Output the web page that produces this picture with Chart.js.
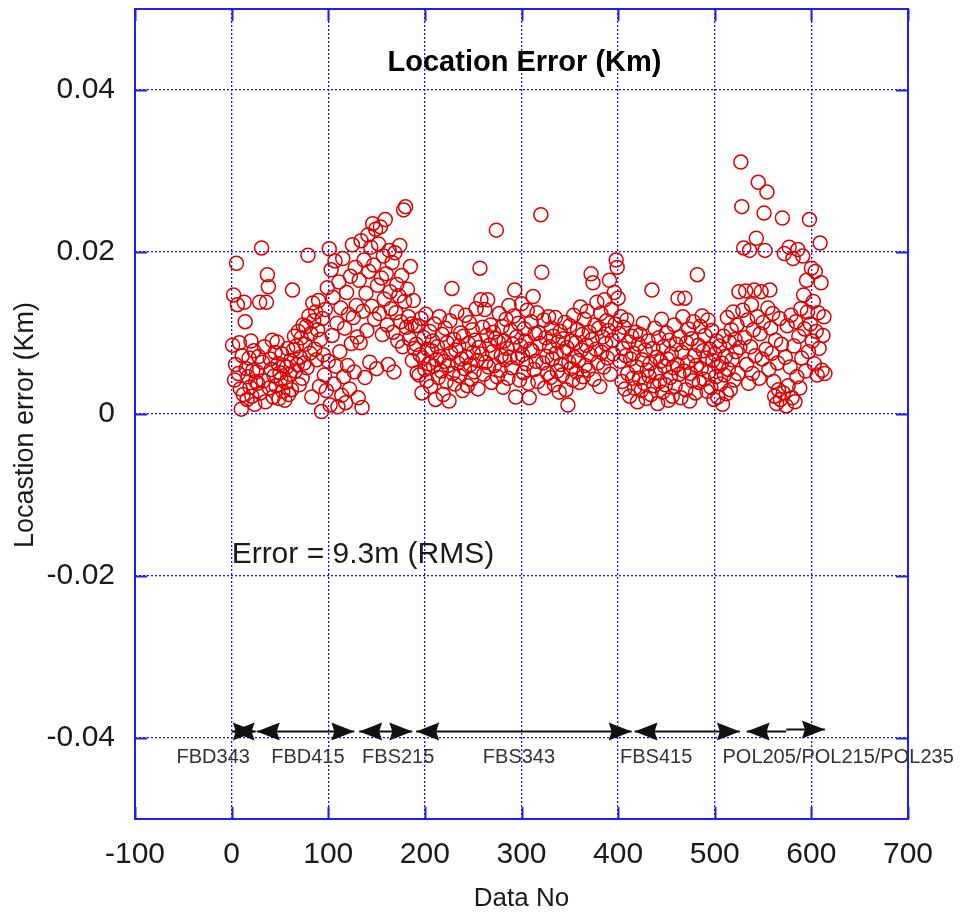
<!DOCTYPE html>
<html>
<head>
<meta charset="utf-8">
<script src="https://cdn.jsdelivr.net/npm/chart.js@4.4.1/dist/chart.umd.min.js"></script>
<style>
  html, body { margin: 0; padding: 0; background: #fff; }
  #wrap { width: 972px; height: 918px; }
</style>
</head>
<body>
<div id="wrap"><canvas id="location-error"></canvas></div>
<script>
// Location error per measurement, in metres (Data No runs on from 1 across the groups)
const fbd343 = [8.5, 14.7, 4.2, 6.1, 18.6, 13.5, 5.0, 8.8, 3.1, 0.6, 7.2, 2.4, 13.8, 11.4, 5.6, 1.8, 4.6, 6.9, 3.3, 9.0, 2.2, 5.4, 7.8, 1.2, 4.0];
const fbd415 = [
  5.2, 3.8, 7.1, 13.8, 2.6, 20.5, 6.4, 4.1, 8.3, 1.5,
  13.8, 17.2, 15.7, 3.2, 6.8, 5.5, 9.1, 2.1, 4.7, 7.6,
  3.5, 8.9, 6.2, 1.9, 5.1, 4.3, 7.4, 2.8, 6.0, 1.7,
  3.9, 5.8, 8.1, 2.4, 4.9, 6.6, 3.0, 15.3, 7.9, 9.6,
  5.3, 8.4, 6.1, 10.2, 3.6, 7.0, 9.4, 4.4, 11.0, 6.3,
  8.6, 10.8, 5.7, 19.6, 12.1, 7.5, 9.9, 2.1, 13.7, 11.5,
  8.0, 12.6, 6.7, 10.4, 14.0, 3.4, 9.2, 0.3, 11.8, 7.3,
  4.8, 12.9, 2.9, 15.6, 6.5, 20.4, 1.1, 17.8, 9.7, 14.4,
  3.7, 18.9, 5.9, 11.2, 0.9, 16.3, 7.7, 13.1, 2.3, 19.2,
  4.6, 10.6, 1.4, 15.0, 6.0, 12.3, 3.1, 17.0, 8.7, 20.9,
  11.9, 5.2, 18.1, 13.4, 9.5
];
const fbs215 = [
  2.0, 16.5, 8.8, 21.4, 0.8, 12.7, 19.0, 4.5, 14.9, 10.3,
  22.1, 17.6, 6.4, 20.6, 13.3, 23.5, 18.4, 11.7, 22.8, 5.6,
  15.9, 21.0, 12.4, 23.1, 16.8, 9.8, 19.5, 14.2, 24.0, 17.3,
  11.0, 6.1, 20.2, 15.1, 13.0, 18.7, 10.1, 5.2, 19.9, 12.5,
  16.0, 9.0, 14.6, 20.8, 11.4, 17.1, 8.3, 25.2, 13.9, 25.6,
  10.7, 15.4, 12.0, 9.3, 18.2, 11.1, 6.6, 14.0, 8.1, 10.9
];
const fbs343 = [
  8.6, 5.1, 10.9, 4.8, 7.3, 11.8, 2.6, 6.9, 9.4, 5.5, 12.3, 4.1, 8.0, 6.2, 10.2,
  3.4, 7.8, 9.0, 5.9, 11.1, 1.8, 6.7, 8.3, 4.5, 12.0, 7.1, 5.3, 9.8, 2.4, 6.5,
  10.6, 4.0, 8.8, 6.0, 1.6, 11.5, 7.5, 15.5, 5.0, 9.2, 3.7, 7.9, 12.6, 6.3, 8.4,
  4.7, 10.0, 6.8, 2.9, 9.6, 5.6, 12.2, 7.0, 3.5, 8.7, 11.3, 6.1, 4.3, 10.4, 7.6,
  5.2, 9.1, 13.0, 6.6, 3.1, 8.2, 18.0, 14.1, 7.4, 10.7, 4.9, 12.9, 6.4, 9.7, 14.1,
  5.8, 8.5, 11.0, 3.9, 7.7, 10.1, 6.0, 9.3, 22.7, 4.6, 8.9, 12.4, 5.4, 7.2, 10.8,
  3.3, 9.0, 6.7, 11.7, 8.1, 4.4, 13.4, 7.0, 10.3, 5.7, 8.6, 12.1, 15.3, 2.1, 9.5,
  6.9, 11.2, 4.2, 8.4, 13.6, 7.3, 5.1, 10.5, 9.0, 6.2, 12.8, 3.8, 2.0, 8.0, 11.4,
  7.8, 14.5, 5.5, 9.9, 6.5, 12.5, 4.0, 10.0, 8.7, 24.6, 17.5, 6.3, 11.6, 3.2, 9.4,
  7.1, 5.0, 12.0, 8.3, 4.5, 10.6, 6.8, 9.6, 3.6, 11.9, 7.5, 5.3, 8.9, 2.7, 10.2,
  6.1, 4.8, 9.3, 7.7, 11.3, 3.0, 8.2, 1.1, 6.4, 10.9, 5.6, 9.0, 4.2, 12.2, 7.0,
  8.8, 5.2, 10.4, 6.6, 3.9, 13.2, 7.9, 9.8, 4.6, 11.7, 6.0, 8.5, 12.7, 5.4, 10.1,
  7.3, 17.3, 9.2, 16.2, 4.3, 11.0, 8.0, 13.8, 6.3, 10.6, 3.4, 12.4, 7.6, 9.5, 5.8,
  14.1, 8.7, 11.5, 6.9, 10.3, 16.5, 4.9, 12.9, 9.1, 7.4, 15.0, 11.1, 19.0, 18.1, 14.3,
  9.9, 6.5, 12.0, 4.0, 8.1, 10.7, 3.1, 7.2, 11.6, 5.0, 8.9, 2.2, 6.8, 9.6, 4.4
];
const fbs415 = [
  7.5, 3.2, 10.1, 5.8, 1.5, 8.6, 4.4, 9.8, 2.9, 6.7, 11.2, 3.8, 7.9, 1.9, 5.4,
  9.0, 4.7, 6.2, 2.4, 15.3, 8.1, 3.5, 10.6, 5.1, 7.0, 1.3, 9.4, 4.0, 6.5, 11.7,
  2.7, 8.3, 5.9, 3.6, 10.0, 6.8, 1.7, 9.1, 4.5, 7.4, 2.2, 5.7, 11.0, 3.4, 8.6,
  6.1, 14.3, 4.9, 9.5, 2.0, 7.6, 12.0, 5.3, 14.3, 3.0, 8.8, 6.4, 10.5, 1.6, 5.0,
  9.3, 4.1, 11.4, 7.2, 2.6, 6.0, 17.2, 8.5, 3.9, 10.8, 5.6, 12.1, 7.8, 4.3, 9.7,
  6.9, 2.8, 11.6, 5.2, 8.0, 3.3, 10.3, 6.6, 1.8, 7.4, 4.6, 9.0, 2.1, 5.9, 8.4,
  3.7, 6.3, 1.2, 9.6, 4.8, 7.1, 2.5, 11.9, 5.5, 8.9, 3.0, 10.4, 6.7, 12.6, 4.2,
  9.2, 7.7, 11.0, 5.0, 15.1, 8.2
];
const pol = [
  31.1, 25.6, 12.8, 20.5, 9.4, 15.2, 6.1, 11.6, 3.8, 20.2, 8.3, 13.5, 5.0, 10.4,
  15.3, 7.2, 21.7, 12.0, 28.6, 4.4, 9.9, 15.1, 6.8, 11.3, 24.8, 20.2, 8.0, 27.4, 13.1,
  5.5, 15.3, 10.6, 7.5, 12.4, 4.0, 2.2, 9.1, 1.3, 6.3, 3.0, 11.8, 1.8, 8.6, 24.2,
  2.6, 19.8, 7.0, 1.0, 10.9, 3.5, 20.6, 5.8, 12.2, 2.0, 19.2, 8.4, 1.5, 11.4, 4.6,
  20.3, 9.6, 3.2, 13.0, 6.9, 19.5, 14.7, 10.5, 5.3, 16.5, 12.6, 7.7, 24.0, 11.1, 18.0,
  9.0, 13.9, 6.2, 17.6, 10.2, 4.8, 12.5, 8.1, 21.1, 16.2, 5.4, 9.7, 12.0, 5.0
];

// Measurement groups marked under the points
const groupNames = ['FBD343', 'FBD415', 'FBS215', 'FBS343', 'FBS415', 'POL205/POL215/POL235'];
const groupLabelX = [-57, 41, 135, 260, 402, 508];

// Range arrows (Data No), last group is drawn in two pieces as in the original
const arrowFrom = [0, 26, 132, 191, 417, 533, 574];
const arrowTo = [25, 127, 187, 414, 526, 574, 614];
const arrowHeads = ['both', 'both', 'both', 'both', 'both', 'start', 'end'];
const arrowY = [-0.0392, -0.0392, -0.0392, -0.0392, -0.0392, -0.0392, -0.03895];

const xTicks = [-100, 0, 100, 200, 300, 400, 500, 600, 700];
const yTicks = [-0.04, -0.02, 0, 0.02, 0.04];

const groupValues = [fbd343, fbd415, fbs215, fbs343, fbs415, pol];
const points = [];
let dataNo = 1;
groupValues.forEach((vals) => {
  vals.forEach((m) => points.push({ x: dataNo++, y: m / 1000 }));
});

const blue = 'rgb(30,30,245)';
const gridBlue = 'rgb(20,20,235)';
const textColor = '#1a1a1a';

const drawHead = (ctx, tipX, y, dir) => {
  ctx.beginPath();
  ctx.moveTo(tipX, y);
  ctx.lineTo(tipX - dir * 23, y - 9);
  ctx.lineTo(tipX - dir * 20, y);
  ctx.lineTo(tipX - dir * 23, y + 9);
  ctx.closePath();
  ctx.fill();
};

// Frame, inward tick marks, range arrows and the free text
const decorations = {
  id: 'decorations',
  afterDraw(chart) {
    const { ctx, chartArea } = chart;
    const { left, right, top, bottom } = chartArea;
    const xs = chart.scales.x;
    const ys = chart.scales.y;
    ctx.save();

    // frame + ticks
    ctx.strokeStyle = blue;
    ctx.lineWidth = 2;
    ctx.strokeRect(left, top, right - left, bottom - top);
    ctx.beginPath();
    xTicks.forEach((v) => {
      const px = Math.round(xs.getPixelForValue(v)) + 0.5;
      ctx.moveTo(px, bottom); ctx.lineTo(px, bottom - 12);
      ctx.moveTo(px, top); ctx.lineTo(px, top + 12);
    });
    yTicks.forEach((v) => {
      const py = Math.round(ys.getPixelForValue(v)) + 0.5;
      ctx.moveTo(left, py); ctx.lineTo(left + 12, py);
      ctx.moveTo(right, py); ctx.lineTo(right - 12, py);
    });
    ctx.stroke();

    // range arrows
    ctx.strokeStyle = '#111';
    ctx.fillStyle = '#111';
    ctx.lineWidth = 2;
    arrowFrom.forEach((from, i) => {
      const x1 = xs.getPixelForValue(from);
      const x2 = xs.getPixelForValue(arrowTo[i]);
      const y = ys.getPixelForValue(arrowY[i]);
      ctx.beginPath();
      ctx.moveTo(x1, y);
      ctx.lineTo(x2, y);
      ctx.stroke();
      if (arrowHeads[i] !== 'end') drawHead(ctx, x1, y, -1);
      if (arrowHeads[i] !== 'start') drawHead(ctx, x2, y, 1);
    });

    // group names
    ctx.fillStyle = '#333';
    ctx.font = '20px "Liberation Sans", Arial, sans-serif';
    ctx.textAlign = 'left';
    ctx.textBaseline = 'middle';
    groupNames.forEach((name, i) => {
      ctx.fillText(name, xs.getPixelForValue(groupLabelX[i]), ys.getPixelForValue(-0.0424));
    });

    // RMS note
    ctx.fillStyle = textColor;
    ctx.font = '30px "Liberation Sans", Arial, sans-serif';
    ctx.fillText('Error = 9.3m (RMS)', xs.getPixelForValue(0), ys.getPixelForValue(-0.0174));

    // title inside the plot
    ctx.font = 'bold 29px "Liberation Sans", Arial, sans-serif';
    ctx.textAlign = 'center';
    ctx.fillStyle = '#000';
    ctx.fillText('Location Error (Km)', (left + right) / 2 + 3, top + 54);

    // y axis title
    ctx.font = '27px "Liberation Sans", Arial, sans-serif';
    ctx.fillStyle = textColor;
    ctx.translate(26, (top + bottom) / 2 + 11);
    ctx.rotate(-Math.PI / 2);
    ctx.fillText('Locastion error (Km)', 0, 0);

    ctx.restore();
  },
};

Chart.defaults.font.family = '"Liberation Sans", Arial, sans-serif';

const ctx = document.getElementById('location-error');
new Chart(ctx, {
  type: 'scatter',
  data: {
    datasets: [
      {
        data: points,
        pointStyle: 'circle',
        pointRadius: 7,
        pointHoverRadius: 7,
        pointBorderWidth: 1.5,
        borderColor: 'rgb(222,0,0)',
        backgroundColor: 'rgba(0,0,0,0)',
      },
    ],
  },
  options: {
    responsive: true,
    maintainAspectRatio: false,
    animation: false,
    layout: {
      padding: { top: 9, right: 64, left: 0, bottom: 0 },
    },
    scales: {
      x: {
        type: 'linear',
        min: -100,
        max: 700,
        afterBuildTicks: (scale) => { scale.ticks = xTicks.map((v) => ({ value: v })); },
        afterFit: (scale) => { scale.height = 99; },
        border: { display: false, dash: [2, 2] },
        grid: { color: gridBlue, lineWidth: 1.3, drawTicks: false },
        ticks: {
          autoSkip: false,
          maxRotation: 0,
          padding: 18,
          color: textColor,
          font: { size: 30 },
        },
        title: {
          display: true,
          text: 'Data No',
          color: textColor,
          font: { size: 26 },
          padding: { top: 0, bottom: 4 },
        },
      },
      y: {
        type: 'linear',
        min: -0.05,
        max: 0.05,
        afterBuildTicks: (scale) => { scale.ticks = yTicks.map((v) => ({ value: v })); },
        afterFit: (scale) => {
          scale.width = 135;
          scale.paddingTop = 0;
          scale.paddingBottom = 0;
        },
        border: { display: false, dash: [2, 2] },
        grid: { color: gridBlue, lineWidth: 1.3, drawTicks: false },
        ticks: {
          padding: 20,
          color: textColor,
          font: { size: 30 },
          callback: (value) => String(Math.round(value * 100) / 100),
        },
      },
    },
    plugins: {
      legend: { display: false },
      tooltip: { enabled: false },
    },
  },
  plugins: [decorations],
});
</script>
</body>
</html>
